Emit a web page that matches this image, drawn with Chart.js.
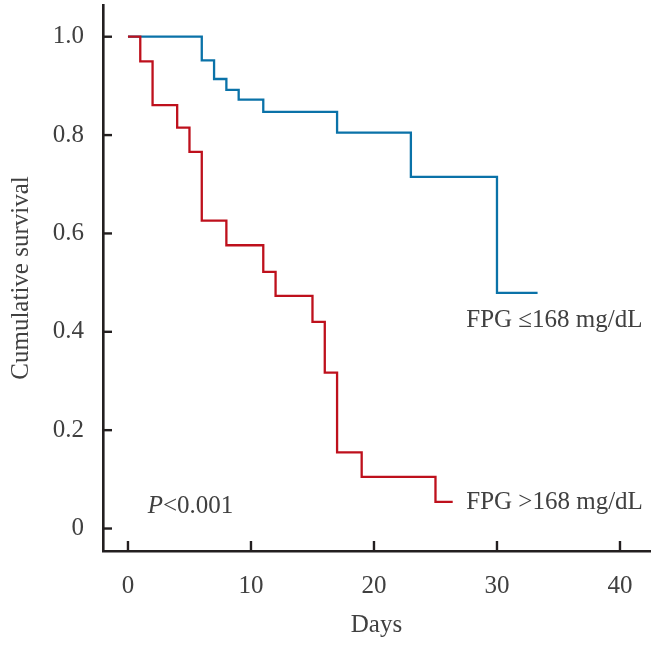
<!DOCTYPE html>
<html>
<head>
<meta charset="utf-8">
<script src="https://cdn.jsdelivr.net/npm/chart.js@4.4.0/dist/chart.umd.min.js"></script>
<style>
  body { margin: 0; background: #fff; }
  canvas { display: block; }
</style>
</head>
<body>
<canvas id="kmChart" width="662" height="650"></canvas>
<script>
// Kaplan-Meier steps
const lowDays = [0, 6, 7, 8, 9, 11, 17, 23, 30, 33.3];
const lowSurv = [1.0, 0.952, 0.914, 0.892, 0.872, 0.847, 0.805, 0.715, 0.479, 0.479];
const highDays = [0, 1, 2, 4, 5, 6, 8, 11, 12, 15, 16, 17, 19, 25, 26.4];
const highSurv = [1.0, 0.95, 0.861, 0.815, 0.766, 0.626, 0.576, 0.522, 0.473, 0.42, 0.317, 0.155, 0.105, 0.054, 0.054];

const xTicks = [0, 10, 20, 30, 40];
const yTicks = [0, 0.2, 0.4, 0.6, 0.8, 1.0];
const yTickLabels = ['0', '0.2', '0.4', '0.6', '0.8', '1.0'];

const seriesNames = ['FPG >168 mg/dL', 'FPG \u2264168 mg/dL'];

const FONT = "'Liberation Serif', 'Times New Roman', serif";
const TEXT = '#404040';
const AXIS = '#231f20';

function toPoints(xs, ys) {
  return xs.map((x, i) => ({ x: x, y: ys[i] }));
}

// text drawn inside the plot, positioned in data units
const notes = [
  { text: seriesNames[1], x: 27.5, y: 0.424 },
  { text: seriesNames[0], x: 27.5, y: 0.054 }
];

const innerTicks = {
  id: 'innerTicks',
  afterDraw(chart) {
    const { ctx, scales: { x, y } } = chart;
    ctx.save();
    ctx.strokeStyle = AXIS;
    ctx.lineWidth = 2.4;
    yTicks.forEach(v => {
      const py = y.getPixelForValue(v);
      ctx.beginPath();
      ctx.moveTo(x.left, py);
      ctx.lineTo(x.left + 9, py);
      ctx.stroke();
    });
    xTicks.forEach(v => {
      const px = x.getPixelForValue(v);
      ctx.beginPath();
      ctx.moveTo(px, y.bottom);
      ctx.lineTo(px, y.bottom - 10);
      ctx.stroke();
    });

    ctx.fillStyle = TEXT;
    ctx.font = '25px ' + FONT;
    ctx.textBaseline = 'middle';
    ctx.textAlign = 'left';
    notes.forEach(n => {
      ctx.fillText(n.text, x.getPixelForValue(n.x), y.getPixelForValue(n.y));
    });

    // P value, italic P
    let px = x.getPixelForValue(1.6);
    const py = y.getPixelForValue(0.044);
    ctx.font = 'italic 25px ' + FONT;
    ctx.fillText('P', px, py);
    px += ctx.measureText('P').width;
    ctx.font = '25px ' + FONT;
    ctx.fillText('<0.001', px, py);
    ctx.restore();
  }
};

new Chart(document.getElementById('kmChart'), {
  type: 'line',
  data: {
    datasets: [
      {
        label: seriesNames[0],
        data: toPoints(highDays, highSurv),
        borderColor: '#be101c',
        borderWidth: 2.3,
        stepped: 'before',
        pointRadius: 0,
        fill: false
      },
      {
        label: seriesNames[1],
        data: toPoints(lowDays, lowSurv),
        borderColor: '#0a72a8',
        borderWidth: 2.3,
        stepped: 'before',
        pointRadius: 0,
        fill: false
      }
    ]
  },
  options: {
    responsive: false,
    devicePixelRatio: 1,
    animation: false,
    layout: { padding: { top: 5, right: 12, left: 0, bottom: 0 } },
    plugins: {
      legend: { display: false },
      tooltip: { enabled: false }
    },
    scales: {
      x: {
        type: 'linear',
        min: -2.03,
        max: 42.44,
        afterBuildTicks: s => { s.ticks = xTicks.map(v => ({ value: v })); },
        afterFit: s => { s.height = 99; s.paddingLeft = 0; s.paddingRight = 0; },
        grid: { display: false, drawTicks: false },
        border: { display: true, color: AXIS, width: 2.6 },
        ticks: {
          padding: 20,
          color: TEXT,
          font: { family: FONT, size: 25 },
          maxRotation: 0
        },
        title: {
          display: true,
          text: 'Days',
          color: TEXT,
          font: { family: FONT, size: 25 },
          padding: { bottom: 10 }
        }
      },
      y: {
        type: 'linear',
        min: -0.0457,
        max: 1.0645,
        afterBuildTicks: s => { s.ticks = yTicks.map(v => ({ value: v })); },
        afterFit: s => { s.width = 103; s.paddingTop = 0; s.paddingBottom = 0; },
        grid: { display: false, drawTicks: false },
        border: { display: true, color: AXIS, width: 2.6 },
        ticks: {
          padding: 19,
          color: TEXT,
          font: { family: FONT, size: 25 },
          callback: (v, i) => yTickLabels[i]
        },
        title: {
          display: true,
          text: 'Cumulative survival',
          color: TEXT,
          font: { family: FONT, size: 25 },
          padding: { top: 6 }
        }
      }
    }
  },
  plugins: [innerTicks]
});
</script>
</body>
</html>
